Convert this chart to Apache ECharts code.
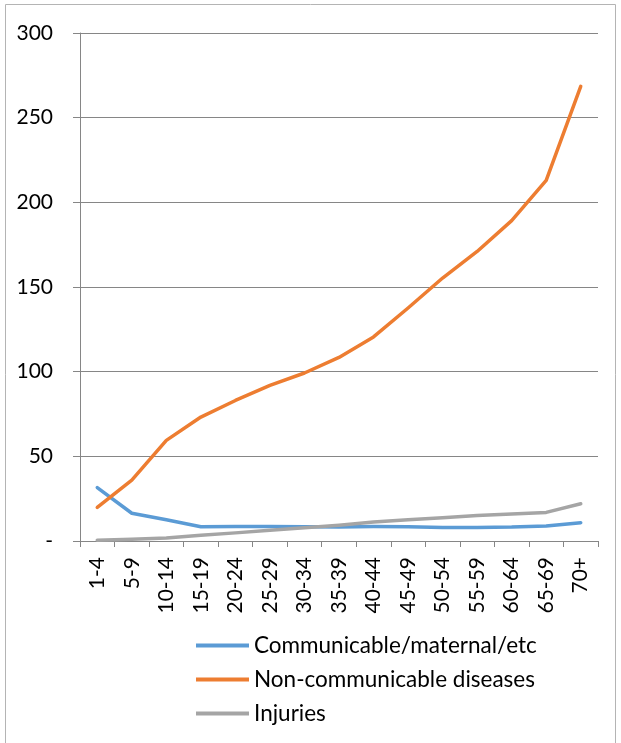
<!DOCTYPE html>
<html>
<head>
<meta charset="utf-8">
<style>
  html, body { margin: 0; padding: 0; background: #fff; }
  #chart { width: 621px; height: 743px; }
</style>
<script src="https://cdn.jsdelivr.net/npm/echarts@6/dist/echarts.min.js"></script>
</head>
<body>
<div id="chart"></div>
<script>
// Age groups along the x axis
const ageGroups = ['1-4', '5-9', '10-14', '15-19', '20-24', '25-29', '30-34', '35-39',
  '40-44', '45-49', '50-54', '55-59', '60-64', '65-69', '70+'];

// Rates by cause group
const communicable = [31.5, 16.4, 12.5, 8.4, 8.6, 8.6, 8.4, 8.3, 8.5, 8.4, 8.0, 8.0, 8.2, 8.9, 10.8];
const nonCommunicable = [19.8, 35.9, 59.4, 73.2, 83.0, 91.9, 99.2, 108.4, 120.5, 137.6, 155.3, 171.0, 189.2, 213.0, 268.5];
const injuries = [0.4, 1.0, 1.8, 3.4, 4.8, 6.4, 7.8, 9.3, 11.2, 12.6, 13.7, 15.0, 15.9, 16.9, 22.0];

const seriesNames = ['Communicable/maternal/etc', 'Non-communicable diseases', 'Injuries'];
const seriesColors = ['#5B9BD5', '#ED7D31', '#A5A5A5'];
const seriesValues = [communicable, nonCommunicable, injuries];

const FONT = 'Lato, "Open Sans", sans-serif';
const axisGray = '#868686';

const chart = echarts.init(document.getElementById('chart'), null, { renderer: 'canvas' });

chart.setOption({
  animation: false,
  backgroundColor: '#ffffff',
  graphic: [{
    type: 'rect',
    shape: { x: 5.5, y: 4.5, width: 610, height: 800 },
    style: { fill: 'none', stroke: '#b4b4b4', lineWidth: 1 },
    silent: true
  }],
  grid: { left: 80, right: 23, top: 33, bottom: 202 },
  legend: {
    orient: 'vertical',
    left: 196,
    top: 634,
    padding: 0,
    itemWidth: 53,
    itemHeight: 4,
    itemGap: 11,
    icon: 'rect',
    textStyle: { fontFamily: FONT, fontSize: 22.5, lineHeight: 22, color: '#000' },
    data: seriesNames
  },
  xAxis: {
    type: 'category',
    data: ageGroups,
    boundaryGap: true,
    axisLine: { lineStyle: { color: axisGray, width: 1 } },
    axisTick: { show: true, interval: 0, length: 6, lineStyle: { color: axisGray } },
    axisLabel: {
      interval: 0,
      rotate: 90,
      margin: 16,
      fontFamily: FONT,
      fontSize: 21,
      color: '#000'
    },
    splitLine: { show: false }
  },
  yAxis: {
    type: 'value',
    min: 0,
    max: 300,
    interval: 50,
    axisLine: { show: true, lineStyle: { color: axisGray, width: 1 } },
    axisTick: { show: true, length: 7, lineStyle: { color: axisGray } },
    axisLabel: {
      margin: 27,
      fontFamily: FONT,
      fontSize: 21,
      color: '#000',
      formatter: v => (v === 0 ? '-' : String(v))
    },
    splitLine: { show: true, lineStyle: { color: axisGray, width: 1 } }
  },
  series: seriesNames.map((name, i) => ({
    name: name,
    type: 'line',
    data: seriesValues[i],
    showSymbol: false,
    symbol: 'none',
    lineStyle: { color: seriesColors[i], width: 3.5, cap: 'round', join: 'round' },
    itemStyle: { color: seriesColors[i] },
    z: i === 1 ? 3 : 2
  }))
});
</script>
</body>
</html>
